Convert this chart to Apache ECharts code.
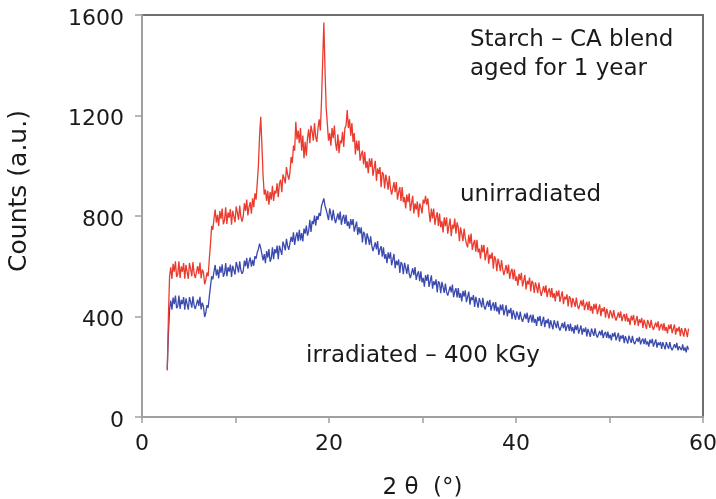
<!DOCTYPE html>
<html>
<head>
<meta charset="utf-8">
<script src="https://cdn.jsdelivr.net/npm/echarts@6/dist/echarts.min.js"></script>
<style>
html,body{margin:0;padding:0;background:#fff;}
#chart{width:716px;height:499px;}
</style>
</head>
<body>
<div id="chart"></div>
<script>
// 2θ grid: first reading and step (degrees)
const thetaStart = 2.7;
const thetaStep = 0.125;

// Unirradiated (red) counts
const unirradiated = [
  185,
  400, 560, 596, 550, 610, 578, 620, 557,
  568, 620, 553, 599, 578, 613, 550, 606,
  599, 550, 613, 589, 560, 617, 571, 553,
  549, 601, 570, 615, 552, 587, 575, 528,
  545, 575, 560, 630, 690, 760, 745, 790,
  826, 774, 805, 760, 820, 788, 830, 767,
  783, 835, 768, 814, 793, 828, 765, 821,
  824, 775, 838, 813, 785, 842, 796, 778,
  798, 851, 820, 865, 802, 837, 855, 809,
  870, 835, 890, 865, 930, 1000, 1120, 1195,
  1080, 960, 885, 905, 860, 900, 845, 895,
  865, 920, 860, 900, 890, 930, 875, 930,
  945, 895, 965, 950, 930, 995, 965, 945,
  975, 1035, 1010, 1080, 1060, 1175, 1105, 1140,
  1090, 1150, 1060, 1120, 1030, 1095, 1040, 1110,
  1145, 1090, 1160, 1135, 1100, 1170, 1115, 1095,
  1150, 1185, 1140, 1260, 1420, 1570, 1380, 1230,
  1165, 1100, 1130, 1080, 1150, 1110, 1160, 1090,
  1060, 1125, 1050, 1100, 1090, 1135, 1075, 1150,
  1160, 1222, 1150, 1185, 1120, 1170, 1095, 1130,
  1045, 1100, 1060, 1100, 1020, 1045, 1060, 1005,
  1055, 990, 1018, 970, 1030, 995, 1030, 960,
  965, 1020, 940, 990, 968, 995, 915, 975,
  965, 910, 965, 940, 905, 960, 910, 885,
  880, 935, 895, 935, 865, 895, 915, 860,
  915, 855, 875, 830, 885, 855, 890, 820,
  825, 880, 810, 850, 825, 858, 795, 850,
  835, 810, 865, 850, 880, 845, 870, 815,
  775, 830, 790, 830, 765, 795, 815, 760,
  810, 755, 780, 735, 795, 760, 795, 730,
  735, 790, 720, 765, 750, 790, 730, 775,
  755, 700, 755, 730, 700, 750, 712, 690,
  675, 725, 690, 730, 665, 690, 705, 658,
  705, 655, 670, 630, 685, 655, 685, 623,
  628, 675, 610, 647, 630, 655, 590, 640,
  628, 580, 630, 610, 580, 625, 590, 565,
  560, 605, 570, 607, 550, 578, 590, 548,
  588, 542, 560, 523, 570, 545, 574, 520,
  525, 566, 508, 542, 528, 555, 500, 542,
  533, 494, 536, 518, 493, 535, 505, 482,
  482, 521, 495, 524, 477, 501, 512, 477,
  513, 474, 493, 460, 502, 480, 504, 458,
  463, 500, 449, 479, 468, 488, 440, 480,
  472, 436, 473, 458, 438, 475, 444, 430,
  428, 464, 441, 467, 425, 447, 458, 425,
  460, 423, 441, 411, 450, 428, 451, 409,
  414, 448, 401, 433, 420, 438, 395, 431,
  424, 392, 425, 412, 393, 426, 398, 384,
  383, 416, 395, 420, 381, 400, 410, 381,
  412, 379, 394, 366, 403, 385, 406, 366,
  371, 402, 362, 389, 375, 394, 355, 387,
  380, 351, 386, 372, 355, 387, 361, 347,
  346, 376, 357, 381, 344, 363, 371, 345,
  374, 343, 358, 333, 367, 350, 370, 334,
  338, 368, 328, 354, 341, 360, 322, 354,
  348, 320, 354, 341, 318, 352
];

// Irradiated 400 kGy (blue) counts
const irradiated = [
  190,
  330, 430, 463, 427, 475, 449, 483, 433,
  441, 483, 430, 466, 449, 477, 427, 472,
  466, 427, 477, 458, 435, 480, 444, 430,
  425, 467, 442, 478, 428, 455, 440, 398,
  415, 445, 435, 480, 520, 560, 548, 580,
  605, 563, 588, 552, 600, 574, 608, 558,
  571, 613, 560, 596, 579, 607, 557, 602,
  606, 567, 617, 598, 575, 620, 584, 570,
  580, 622, 600, 633, 590, 618, 635, 598,
  625, 602, 640, 630, 655, 668, 690, 672,
  665, 623, 648, 612, 660, 634, 668, 618,
  631, 675, 628, 668, 651, 682, 628, 682,
  681, 645, 698, 683, 663, 709, 681, 665,
  670, 717, 697, 735, 685, 717, 735, 700,
  745, 703, 732, 699, 750, 730, 762, 722,
  740, 785, 737, 780, 768, 802, 762, 800,
  785, 812, 800, 840, 855, 870, 840, 825,
  822, 784, 830, 808, 782, 825, 792, 772,
  767, 810, 784, 818, 765, 792, 805, 768,
  805, 760, 778, 750, 788, 764, 788, 738,
  740, 778, 725, 756, 730, 755, 695, 737,
  726, 686, 731, 712, 685, 719, 683, 660,
  655, 695, 667, 700, 645, 668, 680, 638,
  675, 630, 648, 612, 655, 630, 655, 604,
  608, 649, 592, 622, 605, 627, 573, 617,
  608, 568, 614, 595, 570, 608, 569, 553,
  550, 592, 565, 597, 546, 568, 580, 541,
  580, 536, 554, 519, 565, 542, 568, 518,
  524, 564, 511, 541, 525, 548, 496, 540,
  532, 493, 538, 517, 494, 531, 497, 483,
  482, 520, 496, 527, 477, 500, 513, 476,
  513, 474, 493, 460, 502, 479, 504, 457,
  462, 499, 447, 478, 465, 485, 438, 478,
  471, 435, 473, 457, 436, 474, 442, 428,
  426, 462, 438, 466, 423, 444, 456, 423,
  457, 420, 438, 408, 447, 424, 448, 405,
  410, 445, 400, 427, 414, 434, 389, 425,
  419, 387, 420, 405, 387, 419, 393, 379,
  378, 411, 390, 415, 375, 396, 407, 377,
  408, 375, 390, 363, 399, 382, 402, 362,
  368, 399, 358, 386, 373, 391, 353, 385,
  378, 349, 385, 370, 354, 383, 357, 344,
  344, 374, 354, 379, 342, 360, 369, 343,
  372, 341, 358, 332, 365, 346, 368, 332,
  336, 364, 328, 352, 339, 357, 321, 351,
  346, 319, 352, 337, 323, 353, 328, 316,
  315, 342, 325, 347, 314, 331, 339, 315,
  340, 313, 328, 305, 334, 320, 337, 305,
  308, 335, 300, 324, 312, 327, 294, 322,
  317, 292, 324, 309, 295, 323, 299, 290,
  289, 314, 299, 319, 289, 304, 312, 290,
  313, 288, 301, 280, 308, 293, 311, 280,
  283, 309, 276, 297, 286, 299, 271, 298,
  293, 269, 298, 284, 272, 298, 275, 266,
  265, 290, 274, 295, 265, 281, 288, 266,
  289, 264, 277, 257, 283, 268
];

const xTickLabels = [0, 20, 40, 60];
const yTickLabels = [0, 400, 800, 1200, 1600];

const titleLines = ['Starch – CA blend', 'aged for 1 year'];
const labelUnirr = 'unirradiated';
const labelIrr = 'irradiated – 400 kGy';

function pairs(vals) {
  return vals.map((v, i) => [+(thetaStart + i * thetaStep).toFixed(3), v]);
}

const FONT = 'DejaVu Sans';
const chart = echarts.init(document.getElementById('chart'), null, {renderer: 'canvas'});

chart.setOption({
  animation: false,
  backgroundColor: '#ffffff',
  grid: {
    left: 142, right: 13, top: 15, bottom: 82,
    containLabel: false, outerBoundsMode: 'none',
    show: true, borderColor: '#6e6e6e', borderWidth: 2, backgroundColor: 'transparent'
  },
  xAxis: {
    type: 'value', min: 0, max: 60, interval: 10,
    name: '2 θ  (°)', nameLocation: 'middle', nameGap: 60,
    nameTextStyle: {fontFamily: FONT, fontSize: 23, color: '#1a1a1a'},
    axisLine: {show: true, onZero: false, lineStyle: {color: '#a0a0a0', width: 2}},
    axisTick: {show: true, inside: false, length: 6, lineStyle: {color: '#a0a0a0', width: 1.5}},
    axisLabel: {
      margin: 16, fontFamily: FONT, fontSize: 22, color: '#1a1a1a',
      formatter: v => xTickLabels.indexOf(v) >= 0 ? String(v) : ''
    },
    splitLine: {show: false}
  },
  yAxis: {
    type: 'value', min: 0, max: 1600, interval: 400,
    name: 'Counts (a.u.)', nameLocation: 'middle', nameGap: 110,
    nameTextStyle: {fontFamily: FONT, fontSize: 25, color: '#1a1a1a', padding: [0, 0, 0, 50]},
    axisLine: {show: true, lineStyle: {color: '#a0a0a0', width: 2}},
    axisTick: {show: true, inside: false, length: 7, lineStyle: {color: '#a0a0a0', width: 1.5}},
    axisLabel: {
      margin: 18, color: '#1a1a1a',
      formatter: v => yTickLabels.indexOf(v) >= 0 ? '{n|' + v + '}' : '',
      rich: {n: {fontFamily: FONT, fontSize: 22, color: '#1a1a1a', padding: [8, 0, 0, 0]}}
    },
    splitLine: {show: false}
  },
  series: [
    {
      name: 'irradiated – 400 kGy', type: 'line', data: pairs(irradiated),
      showSymbol: false, lineStyle: {color: '#3b4aae', width: 1.3}, itemStyle: {color: '#3b4aae'}
    },
    {
      name: 'unirradiated', type: 'line', data: pairs(unirradiated),
      showSymbol: false, lineStyle: {color: '#ea3b2e', width: 1.3}, itemStyle: {color: '#ea3b2e'}
    }
  ],
  graphic: [
    {type: 'text', left: 470, top: 29, style: {text: titleLines[0], font: '23px "DejaVu Sans"', fill: '#1a1a1a'}},
    {type: 'text', left: 470, top: 58, style: {text: titleLines[1], font: '23px "DejaVu Sans"', fill: '#1a1a1a'}},
    {type: 'text', left: 460, top: 184, style: {text: labelUnirr, font: '23px "DejaVu Sans"', fill: '#1a1a1a'}},
    {type: 'text', left: 306, top: 345, style: {text: labelIrr, font: '23px "DejaVu Sans"', fill: '#1a1a1a'}}
  ]
});
</script>
</body>
</html>
